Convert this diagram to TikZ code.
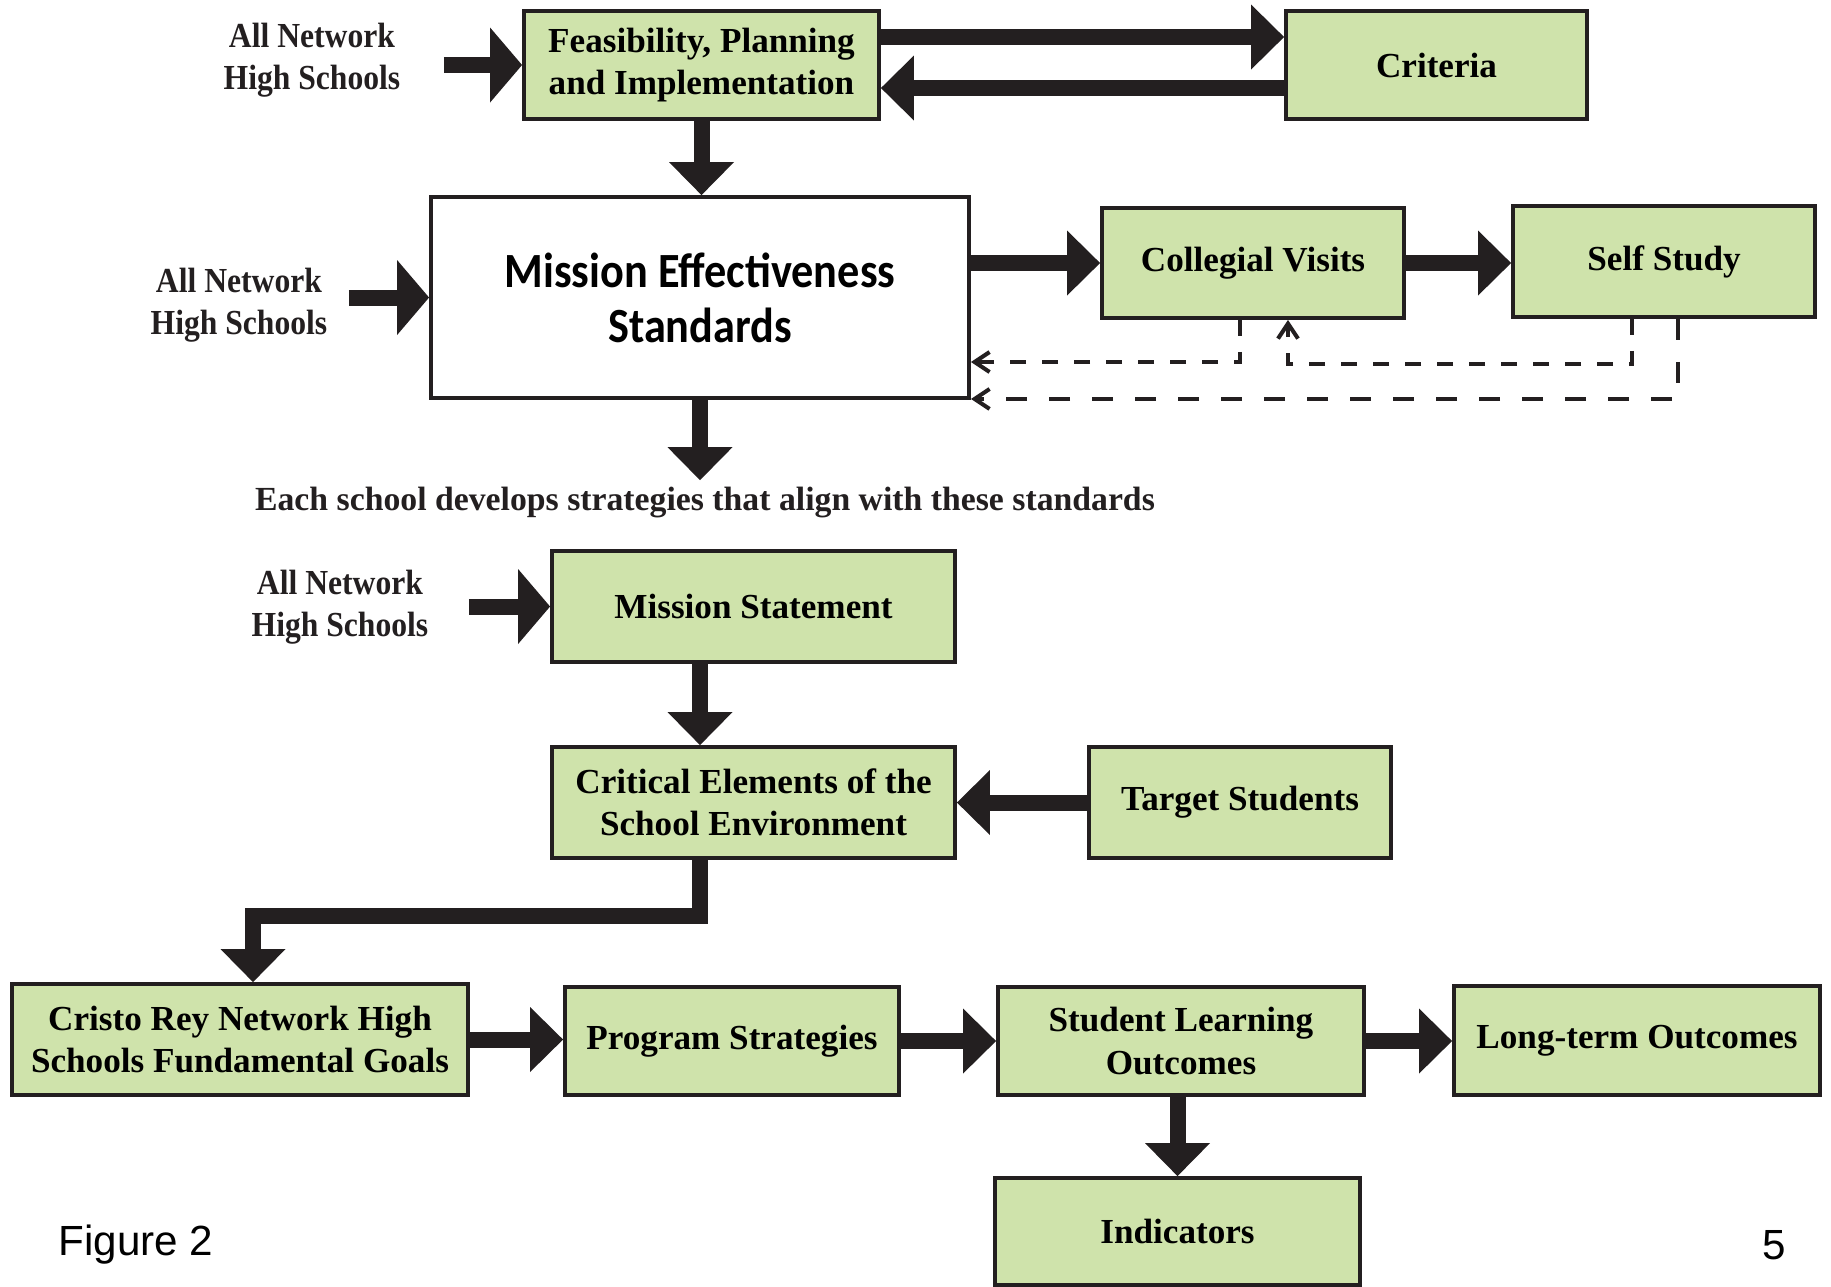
\documentclass[tikz,border=0pt]{standalone}
\usepackage{fontspec}
\setmainfont{Liberation Serif}
\newfontfamily\headfont{Carlito}[FakeStretch=0.9]
\newfontfamily\netfont{Liberation Serif}[FakeStretch=0.9]
\newfontfamily\figfont{Liberation Sans}
\usepackage{xcolor}
\usetikzlibrary{arrows.meta, positioning}

\definecolor{boxgreen}{RGB}{207,227,171}
\definecolor{inkblack}{RGB}{35,31,32}

\begin{document}
\begin{tikzpicture}[
        box/.style={draw=inkblack, line width=1.1pt, fill=boxgreen, inner sep=0pt, align=center,
            font=\fontsize{10}{12}\selectfont\bfseries},
        src/.style={align=center, text=inkblack, font=\netfont\fontsize{10}{12}\selectfont\bfseries},
        fat/.style={draw=inkblack, color=inkblack, line width=0.16cm,
            -{Triangle[width=0.65cm, length=0.33cm, line width=0pt]}},
        feed/.style={fat, -{Triangle[width=0.75cm, length=0.32cm, line width=0pt]}},
        back/.style={draw=inkblack, line width=1.15pt, dash pattern=on 0.16cm off 0.16cm,
            -{Straight Barb[length=0.15cm, width=0.2cm]}}
    ]
        \useasboundingbox (0,0) rectangle (18.31,-12.86);

        % top part
        \node[src] (net1) at (3.12, -0.6) {All Network\\High Schools};
        \node[box, minimum width=3.55cm, minimum height=1.085cm] (feas) at (7.015, -0.65) {Feasibility, Planning\\and Implementation};
        \node[box, minimum width=3.01cm, minimum height=1.085cm] (crit) at (14.365, -0.65) {Criteria};
        \node[src] (net2) at (2.39, -3.05) {All Network\\High Schools};
        \node[box, fill=white, minimum width=5.38cm, minimum height=2.01cm,
            font=\headfont\fontsize{14}{15.6}\selectfont\bfseries] (mes) at (7.0, -2.975) {Mission Effectiveness\\Standards};
        \node[box, minimum width=3.02cm, minimum height=1.1cm] (cv) at (12.53, -2.63) {Collegial Visits};
        \node[box, minimum width=3.02cm, minimum height=1.11cm] (ss) at (16.64, -2.615) {Self Study};
        \node[src, font=\fontsize{9.6}{11.5}\selectfont\bfseries] (each) at (7.05, -5.02) {Each school develops strategies that align with these standards};

        % lower part
        \node[src] (net3) at (3.40, -6.07) {All Network\\High Schools};
        \node[box, minimum width=4.03cm, minimum height=1.11cm] (ms) at (7.535, -6.065) {Mission Statement};
        \node[box, minimum width=4.03cm, minimum height=1.11cm] (ce) at (7.535, -8.025) {Critical Elements of the\\School Environment};
        \node[box, minimum width=3.02cm, minimum height=1.11cm] (ts) at (12.40, -8.025) {Target Students};
        \node[box, minimum width=4.56cm, minimum height=1.11cm] (goals) at (2.40, -10.395) {Cristo Rey Network High\\Schools Fundamental Goals};
        \node[box, minimum width=3.34cm, minimum height=1.08cm] (ps) at (7.32, -10.41) {Program Strategies};
        \node[box, minimum width=3.66cm, minimum height=1.08cm] (slo) at (11.81, -10.41) {Student Learning\\Outcomes};
        \node[box, minimum width=3.66cm, minimum height=1.09cm] (lto) at (16.37, -10.405) {Long-term Outcomes};
        \node[box, minimum width=3.65cm, minimum height=1.07cm] (ind) at (11.775, -12.315) {Indicators};

        \node[font=\figfont\fontsize{12}{14}\selectfont] (fig) at (1.36, -12.45) {Figure 2};
        \node[font=\figfont\fontsize{12}{14}\selectfont] (pg) at (17.74, -12.45) {5};

        % arrows
        \draw[feed] ([xshift=0.31cm]net1.east |- feas.west) -- (feas.west);
        \draw[fat] ([yshift=0.28cm]feas.east) -- ([yshift=0.28cm]crit.west);
        \draw[fat] ([yshift=-0.23cm]crit.west) -- ([yshift=-0.23cm]feas.east);
        \draw[fat] (feas.south) -- (feas.south |- mes.north);
        \draw[feed] ([xshift=0.09cm]net2.east |- mes.west) -- (mes.west);
        \draw[fat] (mes.east |- cv.west) -- (cv.west);
        \draw[fat] (cv.east) -- (cv.east -| ss.west);
        \draw[fat, shorten >=-0.06cm] (mes.south) -- (mes.south |- each.north);

        % feedback loops
        \draw[back] ([xshift=-0.13cm]cv.south) |- ([yshift=-0.645cm]mes.east);
        \draw[back] ([xshift=-0.32cm]ss.south) |- ([xshift=0.35cm, yshift=-0.44cm]cv.south) -- ([xshift=0.35cm]cv.south);
        \draw[back, dash pattern=on 0.21cm off 0.22cm] ([xshift=0.14cm]ss.south) |- ([yshift=0.01cm]mes.south east);

        \draw[feed] ([xshift=0.28cm]net3.east |- ms.west) -- (ms.west);
        \draw[fat] (ms.south -| mes) -- (ce.north -| mes);
        \draw[fat] (ts.west) -- (ts.west -| ce.east);
        \draw[fat] (ce.south -| mes) |- ([xshift=0.13cm, yshift=0.66cm]goals.north) -- ([xshift=0.13cm]goals.north);
        \draw[fat] (goals.east) -- (goals.east -| ps.west);
        \draw[fat] (ps.east) -- (ps.east -| slo.west);
        \draw[fat] (slo.east) -- (slo.east -| lto.west);
        \draw[fat] (slo.south -| ind) -- (ind.north);
    \end{tikzpicture}
\end{document}
